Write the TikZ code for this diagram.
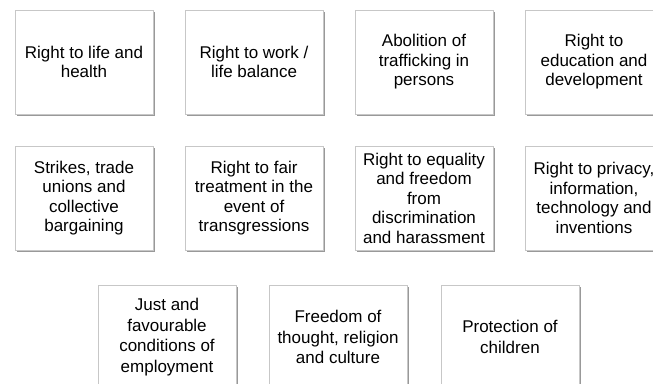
\documentclass[tikz,border=0pt]{standalone}
\usepackage{fontspec}
\setmainfont{Liberation Sans}
\usetikzlibrary{shadows}
\tikzset{
	card/.style={rectangle,draw=black!22,fill=white,minimum width=138pt,minimum height=104pt,
		inner sep=0pt,align=center,font=\fontsize{17}{19.5}\selectfont,
		drop shadow={shadow xshift=1.8pt,shadow yshift=-1.8pt,fill=black!50,opacity=.8}},
	}

\begin{document}
\begin{tikzpicture}[x=1pt,y=-1pt]
 \clip (0,0) rectangle (653,383);
 \fill[white] (0,0) rectangle (653,383);

 % first row
\node (life) at (84,62) [card] {Right to life and\\health};
\node (work) at (254,62) [card] {Right to work /\\life balance};
\node (traffic) at (424,62) [card] {Abolition of\\trafficking in\\persons};
\node (educ) at (594,62) [card] {Right to\\education and\\development};

 % second row
\node (strike) at (84,198) [card] {Strikes, trade\\unions and\\collective\\bargaining};
\node (fair) at (254,198) [card] {Right to fair\\treatment in the\\event of\\transgressions};
\node (equal) at (424,198) [card] {Right to equality\\and freedom\\from\\discrimination\\and harassment};
\node (priv) at (594,198) [card] {Right to privacy,\\information,\\technology and\\inventions};

 % third row
\node (empl) at (167,337) [card,font=\fontsize{17}{20.5}\selectfont] {Just and\\favourable\\conditions of\\employment};
\node (thought) at (338,337) [card,font=\fontsize{17}{20.5}\selectfont] {Freedom of\\thought, religion\\and culture};
\node (child) at (510,337) [card,font=\fontsize{17}{20.5}\selectfont] {Protection of\\children};
\end{tikzpicture}
\end{document}
